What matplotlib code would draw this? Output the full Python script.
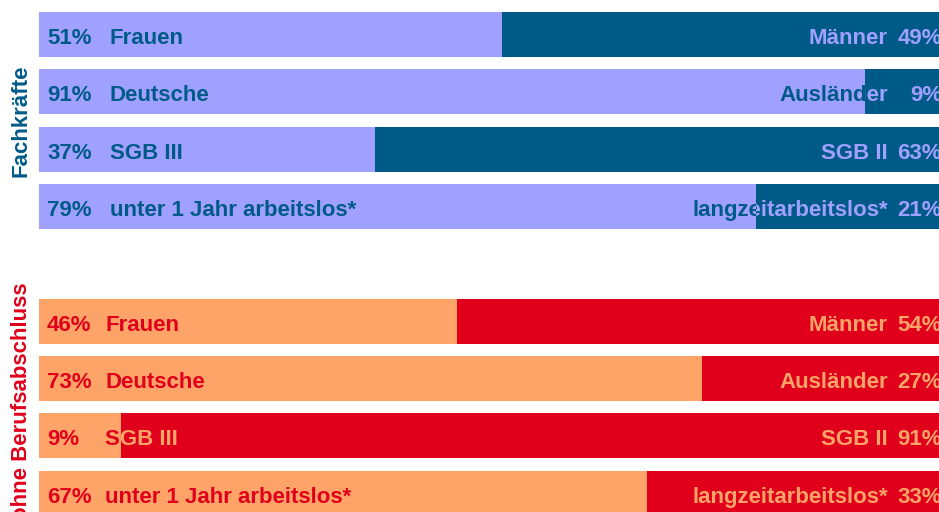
import matplotlib.pyplot as plt
from matplotlib.transforms import Bbox, TransformedBbox

plt.rcParams['font.family'] = ['Liberation Sans', 'DejaVu Sans']

# Shares in percent (left segment); right segment is the remainder
left_labels = ["Frauen", "Deutsche", "SGB III", "unter 1 Jahr arbeitslos*"]
right_labels = ["Männer", "Ausländer", "SGB II", "langzeitarbeitslos*"]
fachkraefte = [51, 91, 37, 79]
ohne_abschluss = [46, 73, 9, 67]

groups = [
    ("Fachkräfte", fachkraefte, [0, 1, 2, 3], "#A0A0FF", "#005A88", 0.078, 0.0),
    ("ohne Berufsabschluss", ohne_abschluss, [5, 6, 7, 8], "#FFA468", "#E0001B", 0.0727, -0.1),
]

fig = plt.figure(figsize=(9.39, 5.12), dpi=100)
ax = fig.add_axes([0, 0, 1, 1])
ax.set_xlim(-39 / 908, 900 / 908)
ax.set_ylim(8.33, -0.602)
ax.axis('off')

bar_h = 0.785


def two_tone_text(x, y, s, ha, light_bb, dark_bb, light, dark):
    # text takes the opposite colour of whichever segment it sits on
    for bb, col in ((light_bb, dark), (dark_bb, light)):
        t = ax.text(x, y + 0.07, s, ha=ha, va='center', fontsize=16, fontweight='bold',
                    color=col, clip_on=True)
        t.set_clip_path(None)
        t.set_clip_box(bb)


for title, values, rows, light, dark, name_x, title_shift in groups:
    shares = [v / 100 for v in values]
    rest = [1 - s for s in shares]
    ax.barh(rows, shares, height=bar_h, color=light)
    ax.barh(rows, rest, left=shares, height=bar_h, color=dark)

    for r, v, s, ll, rl in zip(rows, values, shares, left_labels, right_labels):
        light_bb = TransformedBbox(Bbox.from_extents(0, r - bar_h / 2, s, r + bar_h / 2), ax.transData)
        dark_bb = TransformedBbox(Bbox.from_extents(s, r - bar_h / 2, 1.05, r + bar_h / 2), ax.transData)
        two_tone_text(0.0088, r, f"{v}%", 'left', light_bb, dark_bb, light, dark)
        two_tone_text(name_x, r, ll, 'left', light_bb, dark_bb, light, dark)
        two_tone_text(0.935, r, rl, 'right', light_bb, dark_bb, light, dark)
        two_tone_text(0.9945, r, f"{100 - v}%", 'right', light_bb, dark_bb, light, dark)

    ax.text(-0.0195, (rows[0] + rows[-1]) / 2 + title_shift, title, rotation=90,
            ha='center', va='center', fontsize=16, fontweight='bold', color=dark)

fig.savefig("out.png", dpi=100)
